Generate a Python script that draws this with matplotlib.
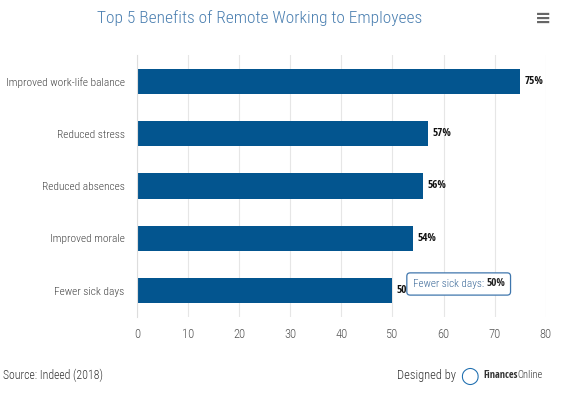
import matplotlib.pyplot as plt

# 数据
categories = ['Improved work-life balance', 'Reduced stress', 'Reduced absences',
              'Improved morale', 'Fewer sick days']
values = [75, 57, 56, 54, 50]
xticks = [0, 10, 20, 30, 40, 50, 60, 70, 80]

plt.rcParams['font.family'] = ['Roboto Condensed', 'DejaVu Sans']
plt.rcParams['font.weight'] = 300
bold_font = ['Open Sans Condensed', 'Roboto Condensed', 'DejaVu Sans']

bar_color = '#03558f'
fig = plt.figure(figsize=(5.65, 3.97), dpi=100)
ax = fig.add_axes([0.2425, 0.2015, 0.7235, 0.66])

y = list(range(len(categories)))
ax.barh(y, values, height=0.48, color=bar_color, zorder=2)
for yi, v in zip(y, values):
    ax.text(v + 0.8, yi, f'{v}%', va='center', ha='left', fontsize=8,
            fontweight='bold', family=bold_font, color='#111111', zorder=3)

ax.set_ylim(len(categories) - 0.5, -0.5)
ax.set_xlim(0, 80)
ax.set_yticks(y)
ax.set_yticklabels(categories, fontsize=8.2, color='#444444', fontweight=300)
ax.set_xticks(xticks)
ax.set_xticklabels([str(t) for t in xticks], fontsize=9, color='#555555', fontweight=300)
ax.tick_params(axis='x', length=0, pad=8)
ax.tick_params(axis='y', length=0, pad=9)
ax.grid(axis='x', color='#e6e6e6', linewidth=0.8, zorder=0)
for s in ['top', 'right', 'bottom']:
    ax.spines[s].set_visible(False)
ax.spines['left'].set_color('#dddddd')

# 提示框
tip_x, tip_y = 54.0, 3.87
ax.text(tip_x, tip_y, 'Fewer sick days: 50%', fontsize=8, color='white',
        va='center', ha='left', zorder=5, fontweight=300,
        bbox=dict(boxstyle='round,pad=0.55,rounding_size=0.3', fc='white',
                  ec='#3f76ad', lw=0.9))
fig.canvas.draw()
r = fig.canvas.get_renderer()
t1 = ax.text(tip_x, tip_y, 'Fewer sick days: ', fontsize=8, color='#3d6a99',
             va='center', ha='left', zorder=6, fontweight=300)
w = t1.get_window_extent(r).width
x2 = ax.transData.inverted().transform((ax.transData.transform((tip_x, 0))[0] + w, 0))[0]
ax.text(x2, tip_y, '50%', fontsize=8, fontweight='bold', family=bold_font,
        color='#222222', va='center', ha='left', zorder=6)

fig.text(0.46, 0.955, 'Top 5 Benefits of Remote Working to Employees', ha='center',
         va='center', fontsize=12.5, color='#4a7fb0', fontweight=300)
fig.text(0.962, 0.955, '\u2261', ha='center', va='center', fontsize=14,
         color='#666666', fontweight='bold', family='DejaVu Sans')
fig.text(0.005, 0.055, 'Source: Indeed (2018)', fontsize=8.5, color='#333333',
         va='center', ha='left', fontweight=300)
fig.text(0.703, 0.055, 'Designed by', fontsize=9, color='#333333', va='center',
         ha='left', fontweight=300)
fig.text(0.83, 0.052, '\u25ef', fontsize=12, color='#1f6fb0', va='center', ha='center',
         family='DejaVu Sans')
fig.text(0.856, 0.055, 'Finances', fontsize=7.5, fontweight='bold', family=bold_font,
         color='#333333', va='center', ha='left')
fig.text(0.915, 0.055, 'Online', fontsize=7.5, color='#333333', va='center', ha='left')

fig.savefig('out.png', dpi=100)
